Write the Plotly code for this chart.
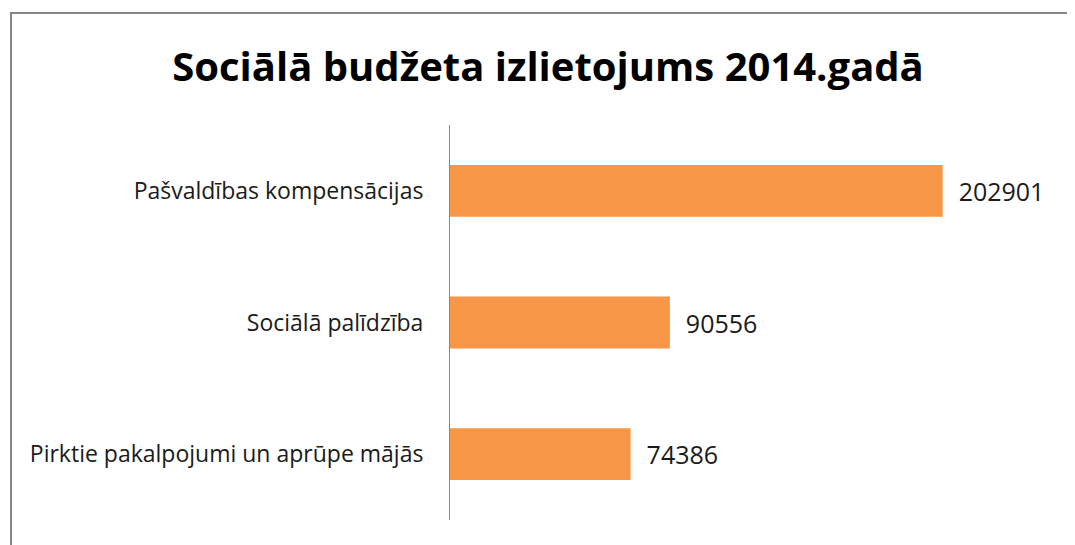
import plotly.graph_objects as go

categories = ["Pirktie pakalpojumi un aprūpe mājās", "Sociālā palīdzība", "Pašvaldības kompensācijas"]
values = [74386, 90556, 202901]
title_text = "Sociālā budžeta izlietojums 2014.gadā"

W, H = 1075, 545
ml, mr, mt, mb = 442, 26, 117, 33

fig = go.Figure(go.Bar(
    x=values, y=categories, orientation="h",
    marker=dict(color="#F79646", line=dict(width=0)),
    width=0.394,
    text=["\u00a0\u00a0" + str(v) for v in values], textposition="outside",
    textfont=dict(family="Open Sans, sans-serif", size=25, color="#1a1a1a"),
    cliponaxis=False,
))

fig.update_layout(
    width=W, height=H,
    margin=dict(l=ml, r=mr, t=mt, b=mb),
    paper_bgcolor="white", plot_bgcolor="white",
    showlegend=False,
    title=dict(text="<b>" + title_text + "</b>", x=(548 - 8) / W, xanchor="center",
               y=1 - 59 / H, yanchor="middle",
               font=dict(family="Open Sans, sans-serif", size=40, color="#000000")),
    xaxis=dict(range=[0, 250000], showgrid=False, zeroline=False, showticklabels=False,
               showline=False, ticks=""),
    yaxis=dict(showline=True, linecolor="#868686", linewidth=1, ticks="", showgrid=False,
               tickfont=dict(family="Open Sans, sans-serif", size=23, color="#1a1a1a"),
               ticklabelstandoff=21),
    bargap=0.6,
)

# chart border (partly cut off at right/bottom like the reference)
fig.add_shape(type="rect", xref="paper", yref="paper",
              x0=(3 - ml) / (W - ml - mr), x1=(W + 20 - ml) / (W - ml - mr),
              y0=(H - 600 - mb) / (H - mt - mb), y1=(H - 5 - mb) / (H - mt - mb),
              line=dict(color="#868686", width=2), layer="below")

fig.write_html("out.html")
